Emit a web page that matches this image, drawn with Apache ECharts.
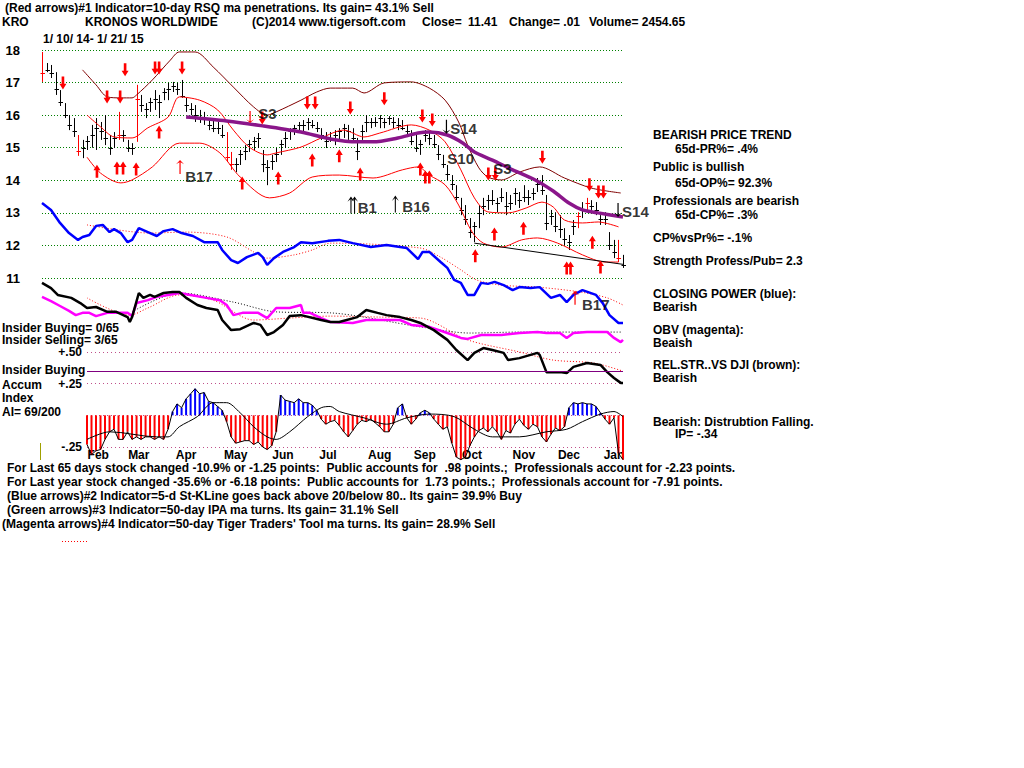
<!DOCTYPE html>
<html><head><meta charset="utf-8">
<script src="https://cdn.jsdelivr.net/npm/echarts@6/dist/echarts.min.js"></script>
<style>html,body{margin:0;padding:0;background:#fff}#c{width:1024px;height:768px}</style>
</head><body><div id="c"></div>
<script>
// ---- price bars, one every 2 trading days (x = trading day index) ----
const highs = [17.94,17.60,17.54,17.32,16.77,16.37,16.00,15.91,15.39,15.24,
15.36,15.70,15.91,15.79,16.00,15.39,15.48,16.10,15.54,15.24,
15.14,16.93,16.62,16.37,16.53,16.77,16.62,16.83,16.99,17.02,
16.99,17.08,16.53,16.37,16.31,16.16,16.10,15.91,15.85,15.79,
15.70,15.48,14.87,14.68,14.93,15.08,15.24,15.33,15.45,14.93,
14.62,14.78,14.99,15.24,15.48,15.60,15.70,15.79,15.85,15.91,
15.85,15.79,15.60,15.48,15.48,15.54,15.60,15.73,15.70,15.60,
15.30,15.70,16.00,15.91,15.94,16.00,15.91,15.97,15.94,15.91,
15.85,15.70,15.54,15.39,15.24,15.54,15.48,15.39,15.08,14.78,
14.47,14.16,13.85,13.46,13.24,12.84,12.72,13.24,13.46,13.55,
13.70,13.46,13.76,13.64,13.55,13.76,13.64,13.85,13.70,13.76,
14.07,14.16,13.55,13.09,13.02,12.93,12.53,12.32,12.78,13.02,
13.33,13.46,13.39,13.33,12.93,13.02,12.41,12.17,12.17,11.71];
const lows = [17.02,17.32,17.14,16.62,16.28,15.91,15.54,15.33,14.75,14.68,
14.93,15.00,14.93,15.24,15.08,14.78,14.99,15.24,15.18,14.87,
14.78,15.18,16.10,15.91,16.10,16.16,15.91,16.46,16.46,16.71,
16.62,16.53,16.10,16.00,15.79,15.76,15.70,15.54,15.48,15.42,
15.30,14.56,14.32,14.25,14.47,14.62,14.87,14.93,14.99,14.25,
13.85,14.32,14.56,14.78,14.99,15.24,15.39,15.48,15.48,15.54,
15.60,15.48,15.24,14.99,15.18,15.08,15.24,15.30,15.24,15.18,
14.62,15.24,15.48,15.60,15.64,15.60,15.60,15.70,15.60,15.54,
15.54,15.39,15.08,14.87,14.78,15.18,15.08,14.99,14.62,14.38,
14.00,13.70,13.39,12.93,12.63,12.23,12.10,12.53,12.93,13.09,
13.24,13.02,13.33,12.93,13.09,13.24,13.15,13.33,13.24,13.39,
13.64,13.55,12.47,12.63,12.41,12.23,12.01,11.86,12.32,12.53,
12.84,13.02,13.09,12.93,12.63,12.63,11.86,11.61,11.49,11.31];
const closes = [17.30,17.40,17.30,16.80,16.40,16.00,15.70,15.50,14.90,15.00,
15.20,15.40,15.60,15.50,15.30,15.00,15.30,15.40,15.40,15.00,
15.00,16.50,16.30,16.20,16.40,16.50,16.40,16.70,16.80,16.90,
16.80,16.60,16.30,16.20,16.00,15.90,15.90,15.70,15.60,15.60,
15.40,14.70,14.50,14.50,14.80,14.90,15.10,15.20,15.30,14.50,
14.40,14.60,14.80,15.10,15.30,15.50,15.60,15.70,15.70,15.80,
15.70,15.60,15.40,15.20,15.30,15.40,15.50,15.60,15.50,15.30,
14.90,15.50,15.80,15.80,15.80,15.90,15.80,15.90,15.80,15.70,
15.60,15.50,15.20,15.00,15.10,15.40,15.30,15.10,14.80,14.50,
14.20,13.90,13.50,13.10,12.80,12.40,12.60,13.00,13.20,13.40,
13.40,13.30,13.50,13.20,13.30,13.60,13.40,13.50,13.50,13.60,
13.90,13.70,12.70,12.90,12.60,12.50,12.20,12.10,12.60,12.90,
13.10,13.30,13.20,13.10,12.80,12.80,12.00,11.80,11.60,11.41];
const redBars = [0, 8, 17, 21, 41, 42, 119, 121, 128];

// ---- bands and moving averages: [trading day, value] ----
const upperBand = [[18,17.39],[24,16.93],[29,16.56],[35,16.53],[40,16.53],[42,16.62],[49,17.08],[57,17.69],[61,17.94],[68,17.94],[76,17.48],[85,16.86],[94,16.25],[100,16.0],[104,16.1],[115,16.46],[122,16.71],[128,16.83],[138,16.83],[143,16.68],[152,16.99],[164,17.02],[172,16.83],[179,16.46],[185,15.79],[189,15.08],[194,14.38],[198,14.1],[204,14.01],[212,14.25],[221,14.41],[232,14.07],[244,13.76],[257,13.61]];
const midBand = [[20,16.0],[26,15.64],[32,15.33],[40,15.3],[47,15.61],[56,15.94],[61,16.56],[70,16.46],[78,16.16],[85,15.54],[92,15.02],[100,14.78],[104,14.84],[115,15.02],[124,15.3],[134,15.54],[143,15.33],[150,15.45],[164,15.7],[172,15.54],[179,15.18],[186,14.32],[192,13.46],[198,13.03],[207,13.0],[215,13.15],[222,13.33],[227,13.18],[232,12.78],[240,12.69],[247,12.72],[256,12.57]];
const lowBand = [[20,14.71],[26,14.22],[35,13.92],[40,14.01],[49,14.41],[61,15.14],[70,15.14],[79,14.84],[88,14.1],[101,13.46],[110,13.61],[120,14.1],[132,14.16],[147,14.07],[160,14.32],[167,14.41],[172,14.16],[179,13.86],[185,13.24],[191,12.41],[196,12.07],[204,11.95],[213,12.17],[220,12.23],[229,12.07],[240,11.71],[250,11.49],[256,11.49]];
const ma65 = [[64,15.94],[82,15.82],[98,15.67],[115,15.48],[128,15.27],[140,15.18],[147,15.18],[158,15.3],[167,15.45],[172,15.48],[180,15.39],[187,15.14],[192,14.87],[200,14.62],[209,14.32],[219,14.01],[227,13.67],[234,13.3],[240,13.09],[247,13.0],[258,12.87]];
const supportLine = [[192,12.07],[266,11.34]];

// ---- indicator lines (drawn in the price panel's units) ----
const closingPower = [[0,13.3],[4,13.09],[8,12.69],[12,12.38],[16,12.17],[18,12.26],[21,12.32],[24,12.6],[27,12.63],[30,12.41],[32,12.5],[35,12.38],[38,12.1],[40,12.17],[43,12.53],[47,12.41],[51,12.29],[54,12.44],[58,12.5],[62,12.38],[67,12.29],[72,12.1],[78,12.1],[80,11.86],[84,11.55],[87,11.46],[91,11.64],[96,11.77],[98,11.64],[100,11.4],[103,11.61],[107,11.8],[112,11.95],[115,12.1],[120,12.07],[127,12.14],[132,12.17],[138,12.07],[146,11.95],[153,12.01],[162,11.92],[167,11.58],[169,11.8],[172,11.8],[177,11.49],[180,11.31],[183,10.94],[186,10.85],[189,10.48],[192,10.48],[195,10.85],[198,10.82],[201,10.88],[205,10.78],[209,10.63],[212,10.72],[217,10.69],[221,10.72],[226,10.39],[230,10.48],[233,10.26],[236,10.48],[240,10.63],[246,10.48],[249,10.23],[252,9.86],[256,9.62],[258,9.62]];
const closingPowerMA = [[20,12.63],[48,12.38],[64,12.41],[82,12.26],[94,11.8],[100,11.61],[112,11.71],[120,11.86],[128,12.07],[168,11.92],[177,11.64],[186,11.25],[193,10.94],[204,10.78],[220,10.72],[239,10.57],[251,10.39],[258,10.17]];
const relStrength = [[0,10.85],[4,10.69],[7,10.48],[13,10.39],[17,10.23],[20,10.08],[24,10.11],[27,10.02],[29,9.96],[33,9.96],[38,9.8],[39,9.65],[40,9.8],[43,10.54],[45,10.39],[48,10.48],[50,10.42],[54,10.54],[58,10.57],[61,10.57],[64,10.39],[69,10.17],[73,10.08],[78,10.02],[80,9.71],[84,9.4],[88,9.43],[94,9.62],[97,9.56],[100,9.25],[103,9.34],[107,9.56],[110,9.83],[115,9.86],[124,9.71],[128,9.65],[132,9.65],[140,9.8],[144,10.02],[149,9.93],[153,9.86],[159,9.8],[164,9.71],[168,9.62],[174,9.4],[180,9.1],[184,8.79],[189,8.48],[192,8.7],[196,8.85],[200,8.79],[205,8.7],[207,8.48],[212,8.54],[220,8.7],[221,8.64],[224,8.11],[230,8.11],[233,8.08],[236,8.27],[242,8.39],[248,8.33],[251,8.11],[254,7.93],[257,7.78],[258,7.78]];
const relStrengthMA = [[20,10.39],[39,9.86],[47,10.08],[61,10.48],[76,10.32],[94,9.71],[110,9.77],[128,9.83],[150,9.8],[168,9.77],[189,9.1],[212,8.73],[227,8.48],[245,8.39],[258,8.14]];
const obv = [[0,10.42],[4,10.29],[8,10.14],[12,9.99],[15,9.86],[18,9.93],[21,9.93],[24,9.83],[29,9.93],[33,9.93],[38,9.93],[40,9.83],[42,10.23],[47,10.32],[51,10.42],[56,10.48],[61,10.54],[66,10.48],[73,10.39],[79,10.32],[82,10.17],[85,9.86],[89,9.93],[96,9.93],[100,9.77],[104,10.08],[110,10.08],[115,10.17],[116,9.93],[119,9.93],[124,9.77],[128,9.65],[138,9.62],[144,9.71],[153,9.71],[159,9.71],[164,9.56],[172,9.5],[180,9.31],[186,9.16],[189,9.13],[195,9.25],[204,9.25],[212,9.31],[220,9.34],[224,9.31],[230,9.31],[233,9.16],[236,9.31],[242,9.34],[251,9.34],[254,9.16],[257,9.03],[258,9.1]];
const obvMA = [[40,9.96],[61,10.54],[85,10.26],[104,9.96],[128,9.93],[168,9.5],[190,9.31],[212,9.34],[257,9.34]];

// ---- accumulation index (one value every 2 trading days from day 20) ----
const aiValues = [-0.23,-0.31,-0.28,-0.27,-0.19,-0.13,-0.11,-0.19,-0.19,-0.13,
-0.19,-0.17,-0.19,-0.17,-0.17,-0.19,-0.17,-0.19,-0.11,0.03,
0.09,0.06,0.13,0.17,0.21,0.17,0.18,0.11,0.10,0.07,
0.04,-0.05,-0.17,-0.22,-0.21,-0.20,-0.20,-0.23,-0.21,-0.25,
-0.27,-0.24,-0.13,0.16,0.12,0.11,0.10,0.13,0.10,0.10,
0.08,0.04,-0.03,-0.07,-0.05,-0.04,-0.08,-0.13,-0.17,-0.12,
-0.07,-0.04,-0.05,-0.03,-0.06,-0.09,-0.13,-0.13,-0.07,0.06,
0.09,-0.02,-0.07,-0.03,0.02,0.04,0.02,-0.03,-0.07,-0.11,
-0.09,-0.22,-0.33,-0.35,-0.33,-0.24,-0.17,-0.12,-0.10,-0.13,
-0.09,-0.13,-0.19,-0.12,-0.14,-0.07,-0.03,-0.08,-0.11,-0.07,
-0.09,-0.17,-0.21,-0.15,-0.10,-0.12,-0.09,0.06,0.10,0.09,
0.10,0.09,0.09,0.07,0.02,-0.03,-0.07,-0.02,-0.30,-0.35];
const aiFirstDay = 20;
const aiMA = [[20,-0.19],[30,-0.13],[51,-0.17],[56,-0.17],[61,-0.09],[69,-0.01],[76,0.10],[82,0.10],[88,0.02],[94,-0.09],[100,-0.17],[104,-0.19],[110,-0.13],[118,-0.01],[124,0.06],[128,0.07],[132,0.03],[143,-0.02],[153,-0.07],[162,-0.02],[172,0.01],[183,-0.01],[192,-0.11],[200,-0.17],[212,-0.17],[224,-0.13],[233,-0.11],[240,-0.05],[248,0.01],[254,0.03],[258,-0.01]];
const insiderBuyingLevel = 0.35;

// ---- axes ----
const aiTickLabels = {'0.5':'+.50','0.25':'+.25','0':'','-0.25':'-.25'};
const monthNames = ['Feb','Mar','Apr','May','Jun','Jul','Aug','Sep','Oct','Nov','Dec','Jan'];
const monthDays = [25,43,64,86,107,127,150,170,191,214,234,254];

// ---- signal arrows ----
const redDownArrows = [[9.3,16.99],[28.9,16.56],[34.7,16.56],[36.9,17.39],[50.2,17.45],[52,17.45],[62.2,17.45],[97.8,15.91],[117.8,16.37],[121.3,16.37],[136.9,16.22],[152,16.5],[168.9,15.97],[173.3,15.85],[198.2,14.19],[201.3,14.19],[222.2,14.71],[243.1,13.86],[247.1,13.64],[249.3,13.64]];
const redUpArrows = [[24.4,14.28],[33.3,14.38],[36,14.38],[41.8,14.35],[52,15.48],[88.9,13.92],[104.9,14.07],[120,14.62],[132,14.75],[141.3,14.19],[168,14.35],[170.2,14.1],[172,14.1],[192.4,11.68],[200.9,12.35],[213.8,12.53],[233,11.31],[234.7,11.31],[244.4,12.1],[248,11.34]];
const thinRedUp = [[61.3,14.41],[236.7,10.39]];
const thinRedDown = [[92.4,15.94]];
const thinBlackUp = [[137.2,13.24],[138.8,13.24],[156.9,13.27]];
const thinBlackDown = [[179.6,15.64],[255.8,13.09]];
const sigTexts = ['B17','S3','B1','B16','S14','S10','S3','S14','B17'];
const sigDays = [63.6,96,140.2,160,181.3,180,200.4,257.6,239.8];
const sigVals = [14.13,16.04,13.15,13.21,15.6,14.68,14.35,13.03,10.2];

// ---- texts ----
const F = '"Liberation Sans", Arial, sans-serif';
const headerTexts = [
 [5,8,'(Red arrows)#1 Indicator=10-day RSQ ma penetrations. Its gain= 43.1% Sell'],
 [2,22,'KRO'],[85,22,'KRONOS WORLDWIDE'],[252,22,'(C)2014 www.tigersoft.com'],
 [422,22,'Close='],[468,22,'11.41'],[509,22,'Change= .01'],[589,22,'Volume= 2454.65'],
 [43,39,'1/ 10/ 14- 1/ 21/ 15']
];
const leftTexts = [[2,328,'Insider Buying= 0/65'],[2,340,'Insider Selling= 3/65'],[2,370,'Insider Buying'],[2,385,'Accum'],[2,398,'Index'],[2,412,'AI= 69/200']];
const rightTexts = [
 [653,135,'BEARISH PRICE TREND'],[675,149,'65d-PR%= .4%'],
 [653,167,'Public is bullish'],[675,183,'65d-OP%= 92.3%'],
 [653,201,'Professionals are bearish'],[675,215,'65d-CP%= .3%'],
 [653,238,'CP%vsPr%= -.1%'],[653,261,'Strength Profess/Pub= 2.3'],
 [653,294,'CLOSING POWER (blue):'],[653,307,'Bearish'],
 [653,330,'OBV (magenta):'],[653,343,'Beaish'],
 [653,365,'REL.STR..VS DJI (brown):'],[653,378,'Bearish'],
 [653,422,'Bearish: Distrubtion Falling.'],[675,434,'IP= -.34']
];
const bottomTexts = [
 [7,468,'For Last 65 days stock changed -10.9% or -1.25 points:  Public accounts for  .98 points.;  Professionals account for -2.23 points.'],
 [7,482,'For Last year stock changed -35.6% or -6.18 points:  Public accounts for  1.73 points.;  Professionals account for -7.91 points.'],
 [7,496,'(Blue arrows)#2 Indicator=5-d St-KLine goes back above 20/below 80.. Its gain= 39.9% Buy'],
 [7,510,'(Green arrows)#3 Indicator=50-day IPA ma turns. Its gain= 31.1% Sell'],
 [2,524,'(Magenta arrows)#4 Indicator=50-day Tiger Traders\' Tool ma turns. Its gain= 28.9% Sell']
];

// ================= build chart =================
const chart = echarts.init(document.getElementById('c'), null, {renderer:'svg', width:1024, height:768});
const barData = highs.map((h,k)=>[k*2, h, lows[k], closes[k], redBars.indexOf(k)>=0?1:0]);
const aiData = aiValues.map((v,k)=>[aiFirstDay+k*2, v]);

function txt(list, font){
  return list.map(t=>({type:'text', x:t[0], y:t[1], silent:true,
    style:{text:t[2], font:font, fill:'#000', verticalAlign:'middle', textVerticalAlign:'middle'}}));
}
const ARR_DOWN = 'path://M2.5,0 L5.5,0 L5.5,8 L8,8 L4,14 L0,8 L2.5,8 Z';
const ARR_UP = 'path://M4,0 L8,6 L5.5,6 L5.5,14 L2.5,14 L2.5,6 L0,6 Z';
const THIN_UP = 'path://M4,0 L8,5 L4.6,2.6 L4.6,16 L3.4,16 L3.4,2.6 L0,5 Z';
const THIN_DOWN = 'path://M4,16 L8,11 L4.6,13.4 L4.6,0 L3.4,0 L3.4,13.4 L0,11 Z';

function lineS(data, color, width, type, smooth, extra){
  return Object.assign({type:'line', data:data, xAxisIndex:0, yAxisIndex:0, symbol:'none', showSymbol:false,
    clip:false, smooth:smooth||false, silent:true,
    lineStyle:{color:color, width:width, type:type||'solid'}}, extra||{});
}
function arrowS(data, sym, size, color){
  return {type:'scatter', data:data, xAxisIndex:0, yAxisIndex:0, symbol:sym, symbolSize:size, clip:false, silent:true,
    itemStyle:{color:color, opacity:1}, z:5};
}

const option = {
  animation:false,
  backgroundColor:'#ffffff',
  grid:[
    {left:42, top:50, width:581, height:228},
    {left:87, top:352, width:536, height:95}
  ],
  xAxis:[
    {type:'value', gridIndex:0, min:0, max:258, show:false},
    {type:'value', gridIndex:1, min:20, max:258,
     axisLine:{show:false}, axisTick:{show:false}, splitLine:{show:false},
     axisLabel:{customValues:monthDays, formatter:(v)=>monthNames[monthDays.indexOf(Math.round(v))]||'',
       margin:2, color:'#000', fontFamily:F, fontWeight:'bold', fontSize:12}}
  ],
  yAxis:[
    {type:'value', gridIndex:0, min:11, max:18, interval:1,
     axisLine:{show:false}, axisTick:{show:false},
     axisLabel:{color:'#000', fontFamily:F, fontWeight:'bold', fontSize:13, margin:22},
     splitLine:{show:true, lineStyle:{color:'#008000', width:1, type:[1,2]}}},
    {type:'value', gridIndex:1, min:-0.25, max:0.5, interval:0.25,
     axisLine:{show:false}, axisTick:{show:false},
     axisLabel:{color:'#000', fontFamily:F, fontWeight:'bold', fontSize:12, margin:5,
       formatter:(v)=>aiTickLabels[String(Math.round(v*100)/100)]},
     splitLine:{show:true, lineStyle:{color:'#c0508a', width:1, type:[1,3]}}}
  ],
  graphic:[].concat(
    txt(headerTexts, 'bold 12px '+F),
    txt(leftTexts, 'bold 12px '+F),
    txt(rightTexts, 'bold 12px '+F),
    txt(bottomTexts, 'bold 12px '+F),
    [{type:'line', silent:true, shape:{x1:40.5,y1:443,x2:40.5,y2:460}, style:{stroke:'#a0a000', lineWidth:1}},
     {type:'line', silent:true, shape:{x1:62,y1:541.5,x2:87,y2:541.5}, style:{stroke:'#ff0000', lineWidth:1, lineDash:[1,2]}}]
  ),
  series:[
    lineS(upperBand, '#800000', 1, 'solid', 0.3),
    lineS(midBand, '#ff0000', 1, 'solid', 0.3),
    lineS(lowBand, '#ff0000', 1, 'solid', 0.3),
    lineS(closingPowerMA, '#ff0000', 1, [1,2], 0.3),
    lineS(relStrengthMA, '#ff0000', 1, [1,2], 0.3),
    lineS(obvMA, '#000000', 1, [1,2], 0.3),
    lineS(closingPower, '#0000ff', 2.5),
    lineS(obv, '#ff00ff', 2.5),
    lineS(relStrength, '#000000', 2.5),
    {type:'custom', xAxisIndex:0, yAxisIndex:0, data:barData, clip:false, silent:true, z:3,
     renderItem:function(params, api){
       const x = api.value(0);
       const ph = api.coord([x, api.value(1)]), pl = api.coord([x, api.value(2)]), pc = api.coord([x, api.value(3)]);
       const col = api.value(4) ? '#ff0000' : '#000000';
       const px = Math.round(ph[0]) + 0.5;
       return {type:'group', children:[
         {type:'line', shape:{x1:px, y1:ph[1], x2:px, y2:pl[1]}, style:{stroke:col, lineWidth:1}},
         {type:'line', shape:{x1:px-2, y1:Math.round(pc[1])+0.5, x2:px+2.5, y2:Math.round(pc[1])+0.5}, style:{stroke:col, lineWidth:1}}
       ]};
     }},
    lineS(ma65, '#8a168a', 3.5, 'solid', 0.3, {z:4}),
    lineS(supportLine, '#000000', 1, 'solid', false, {z:4}),
    arrowS(redDownArrows, ARR_DOWN, [7,13], '#ff0000'),
    arrowS(redUpArrows, ARR_UP, [7,13], '#ff0000'),
    arrowS(thinRedUp, THIN_UP, [8,14], '#ff0000'),
    arrowS(thinRedDown, THIN_DOWN, [8,12], '#ff0000'),
    arrowS(thinBlackUp, THIN_UP, [7,17], '#000000'),
    arrowS(thinBlackDown, THIN_DOWN, [8,14], '#000000'),
    {type:'scatter', xAxisIndex:0, yAxisIndex:0, clip:false, silent:true, symbolSize:1,
     itemStyle:{color:'rgba(0,0,0,0)'}, z:6,
     data:sigDays.map((d,k)=>({value:[d, sigVals[k]], name:sigTexts[k]})),
     label:{show:true, position:'inside', align:'left', verticalAlign:'middle', formatter:'{b}',
       color:'#000', fontFamily:F, fontWeight:'bold', fontSize:15}},
    {type:'bar', xAxisIndex:1, yAxisIndex:1, data:aiData, barWidth:2, clip:false, silent:true,
     itemStyle:{color:(p)=>p.value[1]>=0?'#0000ff':'#ff0000'},
     markLine:{silent:true, symbol:'none', label:{show:false}, lineStyle:{color:'#800080', width:1, type:'solid'},
       data:[{yAxis:insiderBuyingLevel}]}},
    {type:'line', xAxisIndex:1, yAxisIndex:1, data:aiData, symbol:'none', clip:false, silent:true,
     lineStyle:{color:'#000', width:1}},
    {type:'line', xAxisIndex:1, yAxisIndex:1, data:aiMA, symbol:'none', clip:false, silent:true, smooth:0.3,
     lineStyle:{color:'#000', width:1}}
  ]
};
chart.setOption(option);
</script>
</body></html>
